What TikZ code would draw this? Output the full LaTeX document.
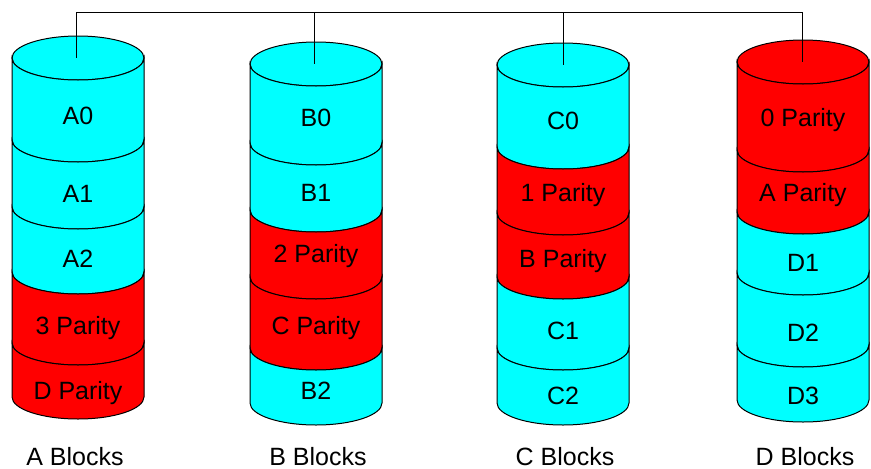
\documentclass[tikz,border=0pt]{standalone}
\usepackage{fontspec}
\setmainfont{Liberation Sans}
\definecolor{diskcyan}{RGB}{0,255,255}
\definecolor{diskred}{RGB}{255,0,0}

\begin{document}
\begin{tikzpicture}[x=1pt, y=-1pt,
		band/.style={draw=black, line width=1pt},
		rim/.style={x radius=66pt, y radius=22pt},
		txt/.style={font=\fontsize{25}{30}\selectfont, inner sep=0pt, anchor=base}]
			\useasboundingbox (0,0) rectangle (871,469);

			\coordinate (busA) at (76,12);
			\coordinate (busB) at (314,12);
			\coordinate (busC) at (563,12);
			\coordinate (busD) at (802,12);
			\coordinate (topA) at (76,58);
			\coordinate (topB) at (314,64);
			\coordinate (topC) at (563,65);
			\coordinate (topD) at (802,62);

			% disk A
			\filldraw[band, fill=diskcyan] (78,58) ellipse[rim];
			\filldraw[band, fill=diskcyan] (12,58) arc[rim, start angle=180, end angle=360] -- (144,140) arc[rim, start angle=0, end angle=-180] -- cycle;
			\filldraw[band, fill=diskcyan] (12,140) arc[rim, start angle=180, end angle=360] -- (144,207) arc[rim, start angle=0, end angle=-180] -- cycle;
			\filldraw[band, fill=diskcyan] (12,207) arc[rim, start angle=180, end angle=360] -- (144,272) arc[rim, start angle=0, end angle=-180] -- cycle;
			\filldraw[band, fill=diskred] (12,272) arc[rim, start angle=180, end angle=360] -- (144,343) arc[rim, start angle=0, end angle=-180] -- cycle;
			\filldraw[band, fill=diskred] (12,343) arc[rim, start angle=180, end angle=360] -- (144,397) arc[rim, start angle=0, end angle=-180] -- cycle;

			% disk B
			\filldraw[band, fill=diskcyan] (316,64) ellipse[rim];
			\filldraw[band, fill=diskcyan] (250,64) arc[rim, start angle=180, end angle=360] -- (382,143) arc[rim, start angle=0, end angle=-180] -- cycle;
			\filldraw[band, fill=diskcyan] (250,143) arc[rim, start angle=180, end angle=360] -- (382,210) arc[rim, start angle=0, end angle=-180] -- cycle;
			\filldraw[band, fill=diskred] (250,210) arc[rim, start angle=180, end angle=360] -- (382,277) arc[rim, start angle=0, end angle=-180] -- cycle;
			\filldraw[band, fill=diskred] (250,277) arc[rim, start angle=180, end angle=360] -- (382,348) arc[rim, start angle=0, end angle=-180] -- cycle;
			\filldraw[band, fill=diskcyan] (250,348) arc[rim, start angle=180, end angle=360] -- (382,403) arc[rim, start angle=0, end angle=-180] -- cycle;

			% disk C
			\filldraw[band, fill=diskcyan] (563,65) ellipse[rim];
			\filldraw[band, fill=diskcyan] (497,65) arc[rim, start angle=180, end angle=360] -- (629,147) arc[rim, start angle=0, end angle=-180] -- cycle;
			\filldraw[band, fill=diskred] (497,147) arc[rim, start angle=180, end angle=360] -- (629,213) arc[rim, start angle=0, end angle=-180] -- cycle;
			\filldraw[band, fill=diskred] (497,213) arc[rim, start angle=180, end angle=360] -- (629,277) arc[rim, start angle=0, end angle=-180] -- cycle;
			\filldraw[band, fill=diskcyan] (497,277) arc[rim, start angle=180, end angle=360] -- (629,348) arc[rim, start angle=0, end angle=-180] -- cycle;
			\filldraw[band, fill=diskcyan] (497,348) arc[rim, start angle=180, end angle=360] -- (629,403) arc[rim, start angle=0, end angle=-180] -- cycle;

			% disk D
			\filldraw[band, fill=diskred] (803,62) ellipse[rim];
			\filldraw[band, fill=diskred] (737,62) arc[rim, start angle=180, end angle=360] -- (869,150) arc[rim, start angle=0, end angle=-180] -- cycle;
			\filldraw[band, fill=diskred] (737,150) arc[rim, start angle=180, end angle=360] -- (869,212) arc[rim, start angle=0, end angle=-180] -- cycle;
			\filldraw[band, fill=diskcyan] (737,212) arc[rim, start angle=180, end angle=360] -- (869,273) arc[rim, start angle=0, end angle=-180] -- cycle;
			\filldraw[band, fill=diskcyan] (737,273) arc[rim, start angle=180, end angle=360] -- (869,345) arc[rim, start angle=0, end angle=-180] -- cycle;
			\filldraw[band, fill=diskcyan] (737,345) arc[rim, start angle=180, end angle=360] -- (869,400) arc[rim, start angle=0, end angle=-180] -- cycle;

			% bus to the disks
			\draw[band] (busA) -- (busD);
			\draw[band] (busA) -- (topA);
			\draw[band] (busB) -- (topB);
			\draw[band] (busC) -- (topC);
			\draw[band] (busD) -- (topD);

			\node[txt] (A0) at (78,124) {A0};
			\node[txt] (A1) at (78,202) {A1};
			\node[txt] (A2) at (78,267) {A2};
			\node[txt] (P3) at (78,334) {3 Parity};
			\node[txt] (PD) at (78,399) {D Parity};

			\node[txt] (B0) at (316,126) {B0};
			\node[txt] (B1) at (316,201) {B1};
			\node[txt] (P2) at (316,262) {2 Parity};
			\node[txt] (PC) at (316,334) {C Parity};
			\node[txt] (B2) at (316,399) {B2};

			\node[txt] (C0) at (563,129) {C0};
			\node[txt] (P1) at (563,201) {1 Parity};
			\node[txt] (PB) at (563,267) {B Parity};
			\node[txt] (C1) at (563,339) {C1};
			\node[txt] (C2) at (563,404) {C2};

			\node[txt] (P0) at (803,126) {0 Parity};
			\node[txt] (PA) at (803,201) {A Parity};
			\node[txt] (D1) at (803,271) {D1};
			\node[txt] (D2) at (803,341) {D2};
			\node[txt] (D3) at (803,404) {D3};

			\node[txt] (blkA) at (75,465) {A Blocks};
			\node[txt] (blkB) at (318,465) {B Blocks};
			\node[txt] (blkC) at (565,465) {C Blocks};
			\node[txt] (blkD) at (805,465) {D Blocks};
		\end{tikzpicture}
\end{document}
